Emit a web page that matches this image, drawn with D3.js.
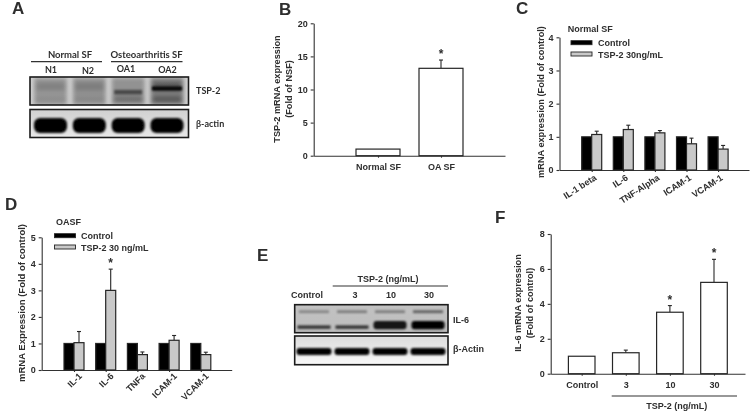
<!DOCTYPE html>
<html lang="en">
<head>
<meta charset="UTF-8">
<title>TSP-2 expression panels</title>
<script src="https://d3js.org/d3.v7.min.js"></script>
<style>
    html, body { margin: 0; padding: 0; background: #fff; }
    svg { display: block; }
    text { font-family: "Liberation Sans", Arial, sans-serif; font-weight: bold; fill: #2e2e2e; }
    text.lato { font-family: Lato, sans-serif; }
    .axis path, .axis line { stroke: #333; stroke-width: 1.1; }
    .axis text { font-size: 9px; fill: #2e2e2e; }
</style>
</head>
<body>
<svg id="fig" width="750" height="412"></svg>
<script>
    // panel B
    const bCategories = ["Normal SF", "OA SF"];
    const bValues = [1, 13.2];
    const bErrTop = [null, 14.45];
    const bStars = [false, true];
    const bTicks = [0, 5, 10, 15, 20];

    // panel C
    const cCategories = ["IL-1 beta", "IL-6", "TNF-Alpha", "ICAM-1", "VCAM-1"];
    const cControl = [1, 1, 1, 1, 1];
    const cTsp2 = [1.07, 1.22, 1.12, 0.79, 0.63];
    const cErrTop = [1.17, 1.35, 1.19, 0.96, 0.74];
    const cTicks = [0, 1, 2, 3, 4];

    // panel D
    const dCategories = ["IL-1", "IL-6", "TNFa", "ICAM-1", "VCAM-1"];
    const dControl = [1, 1, 1, 1, 1];
    const dTsp2 = [1.03, 3.0, 0.58, 1.12, 0.58];
    const dErrTop = [1.45, 3.8, 0.68, 1.3, 0.67];
    const dStars = [false, true, false, false, false];
    const dTicks = [0, 1, 2, 3, 4, 5];

    // panel F
    const fCategories = ["Control", "3", "10", "30"];
    const fValues = [1, 1.2, 3.52, 5.23];
    const fErrTop = [null, 1.35, 3.9, 6.55];
    const fStars = [false, false, true, true];
    const fTicks = [0, 2, 4, 6, 8];

    // blot lanes and estimated band darkness (0-1)
    const aLanes = ["N1", "N2", "OA1", "OA2"];
    const aSmear = [0.28, 0.3, 0.3, 0.4];
    const aUpperBand = [0.14, 0.14, 0, 0.3];
    const aDarkBand = [0, 0, 0, 1];
    const aMidBand = [0, 0, 0.5, 0];
    const aLowBand = [0.06, 0.06, 0.28, 0.32];
    const aActin = [1, 1, 1, 1];
    const eLanes = ["Control", "3", "10", "30"];
    const eFaintBand = [0.3, 0.35, 0.35, 0.5];
    const eThinBand = [0.75, 0.75, 0, 0];
    const eThickBand = [0, 0, 0.9, 1];
    const eActin = [1, 1, 1, 1];

    const GRAY = "#c9c9c9";
    const svg = d3.select("#fig");
    const defs = svg.append("defs");
    const root = svg.append("g").attr("filter", "url(#jpeg)");

    defs.append("filter").attr("id", "jpeg").attr("filterUnits", "userSpaceOnUse")
        .attr("x", 0).attr("y", 0).attr("width", 750).attr("height", 412)
        .append("feGaussianBlur").attr("stdDeviation", 0.3);
    [1, 2, 3].forEach(n => {
        defs.append("filter").attr("id", "soft" + n).attr("x", "-30%").attr("y", "-150%").attr("width", "160%").attr("height", "400%")
            .append("feGaussianBlur").attr("stdDeviation", n);
    });

    function label(str, x, y, size, opts) {
        opts = opts || {};
        const t = root.append("text").attr("x", x).attr("y", y).attr("font-size", size + "px")
            .attr("text-anchor", opts.anchor || "start").text(str);
        if (opts.rotate) t.attr("transform", `rotate(${opts.rotate},${x},${y})`);
        if (opts.lato) t.attr("class", "lato");
        return t;
    }

    function yTitle(lines, xs, cy, size) {
        lines.forEach((l, i) => label(l, xs[i], cy, size, {anchor: "middle", rotate: -90}));
    }

    // axes for one bar panel. x is in category index units so the baseline runs past the bars
    function axes(p) {
        const y = d3.scaleLinear().domain(p.yDomain).range(p.yRange);
        const x = d3.scaleLinear()
            .domain([(p.left - p.first) / p.step, (p.right - p.first) / p.step])
            .range([p.left, p.right]);
        const yAxis = d3.axisLeft(y).tickValues(p.ticks).tickFormat(d3.format("d"))
            .tickSize(3).tickSizeOuter(0).tickPadding(3);
        root.append("g").attr("class", "axis").attr("transform", `translate(${p.left},0)`).call(yAxis);
        const xAxis = d3.axisBottom(x).tickValues(p.cats.map((c, i) => i)).tickSize(2).tickSizeOuter(0)
            .tickPadding(p.rotate ? 3 : 6).tickFormat(i => p.cats[i]);
        const gx = root.append("g").attr("class", "axis").attr("transform", `translate(0,${y(0)})`).call(xAxis);
        if (p.rotate) {
            gx.selectAll("text").attr("text-anchor", "end").attr("dy", "0.6em").attr("dx", p.labelDx)
                .attr("transform", `rotate(${p.rotate})`);
        }
        return {x, y};
    }

    function bar(g, x0, x1, v, y, fill) {
        g.append("rect").attr("x", x0).attr("width", x1 - x0).attr("y", y(v)).attr("height", y(0) - y(v))
            .attr("fill", fill).attr("stroke", "#262626").attr("stroke-width", 1.2);
    }

    function errBar(g, cx, v, top, y, cap) {
        g.append("line").attr("x1", cx).attr("x2", cx).attr("y1", y(v)).attr("y2", y(top))
            .attr("stroke", "#262626").attr("stroke-width", 1.1);
        g.append("line").attr("x1", cx - cap).attr("x2", cx + cap).attr("y1", y(top)).attr("y2", y(top))
            .attr("stroke", "#262626").attr("stroke-width", 1.1);
    }

    function star(cx, top, y) {
        label("*", cx, y(top) - 2, 12, {anchor: "middle"});
    }

    function singleBars(p, values, errTop, stars) {
        const {x, y} = axes(p);
        const g = root.append("g");
        values.forEach((v, i) => {
            const cx = x(i);
            if (errTop[i] != null) errBar(g, cx, v, errTop[i], y, 2);
            bar(g, cx - p.half, cx + p.half, v, y, "#fff");
            if (stars[i]) star(cx, errTop[i], y);
        });
    }

    function pairedBars(p, control, tsp2, errTop, stars) {
        const {x, y} = axes(p);
        const g = root.append("g");
        control.forEach((v, i) => {
            const cx = x(i);
            errBar(g, cx + p.half / 2, tsp2[i], errTop[i], y, 2);
            bar(g, cx - p.half, cx, v, y, "#000");
            bar(g, cx, cx + p.half, tsp2[i], y, GRAY);
            if (stars && stars[i]) star(cx + p.half / 2, errTop[i], y);
        });
    }

    function legend(title, tx, ty, sx, rows, lx, size) {
        label(title, tx, ty, size);
        rows.forEach(r => {
            root.append("rect").attr("x", sx).attr("y", r.y - 2).attr("width", 21).attr("height", 4)
                .attr("fill", r.fill).attr("stroke", "#262626").attr("stroke-width", 0.9);
            label(r.text, lx, r.y + 3.5, size);
        });
    }

    // western blot strip: a grey field with blurred band rectangles per lane
    function blot(box, lanes, fieldTop, fieldBottom, layers) {
        const id = "clip" + box.y0;
        const gradId = "grad" + box.y0;
        defs.append("clipPath").attr("id", id).append("rect")
            .attr("x", box.x0).attr("y", box.y0).attr("width", box.x1 - box.x0).attr("height", box.y1 - box.y0);
        const grad = defs.append("linearGradient").attr("id", gradId).attr("x1", 0).attr("x2", 0).attr("y1", 0).attr("y2", 1);
        grad.append("stop").attr("offset", "0%").attr("stop-color", fieldTop);
        grad.append("stop").attr("offset", "100%").attr("stop-color", fieldBottom);

        const xLane = d3.scalePoint().domain(lanes).range([box.first, box.last]);
        const yFrac = d3.scaleLinear().domain([0, 1]).range([box.y0, box.y1]);
        const g = root.append("g").attr("clip-path", `url(#${id})`);
        g.append("rect").attr("x", box.x0).attr("y", box.y0).attr("width", box.x1 - box.x0).attr("height", box.y1 - box.y0)
            .attr("fill", `url(#${gradId})`);
        layers.forEach(l => {
            const lg = g.append("g");
            lg.selectAll("rect").data(l.values).join("rect")
                .attr("x", (d, i) => xLane(lanes[i]) - l.width / 2)
                .attr("width", l.width)
                .attr("y", yFrac(l.top))
                .attr("height", yFrac(l.bottom) - yFrac(l.top))
                .attr("rx", l.round || 0)
                .attr("fill", "#000")
                .attr("opacity", d => d)
                .attr("filter", `url(#soft${l.blur || 1})`);
        });
        root.append("rect").attr("x", box.x0).attr("y", box.y0).attr("width", box.x1 - box.x0).attr("height", box.y1 - box.y0)
            .attr("fill", "none").attr("stroke", "#1c1c1c").attr("stroke-width", 1.6);
    }

    function rule(x0, x1, y, width) {
        root.append("line").attr("x1", x0).attr("x2", x1).attr("y1", y).attr("y2", y)
            .attr("stroke", "#333").attr("stroke-width", width || 1.1);
    }

    // panel letters
    [["A", 12, 14], ["B", 279, 15], ["C", 516, 14], ["D", 5, 210], ["E", 257, 261], ["F", 495, 223]]
        .forEach(d => label(d[0], d[1], d[2], 17));

    // A
    blot({x0: 30, x1: 188.5, y0: 77, y1: 105, first: 50.5, last: 167}, aLanes, "#d2d2d2", "#d0d0d0", [
        {values: aSmear, top: 0.02, bottom: 1, width: 33, blur: 2},
        {values: aUpperBand, top: 0.2, bottom: 0.48, width: 28, blur: 2},
        {values: aDarkBand, top: 0.34, bottom: 0.48, width: 30, blur: 1},
        {values: aMidBand, top: 0.46, bottom: 0.62, width: 28, blur: 1},
        {values: aLowBand, top: 0.7, bottom: 0.88, width: 28, blur: 2}
    ]);
    blot({x0: 30, x1: 188.5, y0: 109.5, y1: 137.5, first: 50.5, last: 167}, aLanes, "#d0d0d0", "#e8e8e8", [
        {values: aActin, top: 0.3, bottom: 0.84, width: 33, round: 6, blur: 1}
    ]);
    rule(31, 102, 61.7, 1.2);
    rule(111, 182.5, 61.7, 1.2);
    label("Normal SF", 70, 58, 9.5, {anchor: "middle", lato: true});
    label("Osteoarthritis SF", 146.5, 58, 9.5, {anchor: "middle", lato: true});
    const aLabelX = d3.scaleOrdinal(aLanes, [51, 88, 126, 167.5]);
    const aLabelY = d3.scaleOrdinal(aLanes, [73, 74, 72, 73]);
    aLanes.forEach(l => label(l, aLabelX(l), aLabelY(l), 9, {anchor: "middle", lato: true}));
    label("TSP-2", 196, 94, 9, {lato: true});
    label("β-actin", 196, 127, 9, {lato: true});

    // B
    singleBars({cats: bCategories, yDomain: [0, 20], yRange: [155.7, 23.3], ticks: bTicks,
        left: 313.7, right: 505, first: 378, step: 63, half: 22}, bValues, bErrTop, bStars);
    yTitle(["TSP-2 mRNA expression", "(Fold of NSF)"], [280, 292], 89, 9.2);

    // C
    pairedBars({cats: cCategories, yDomain: [0, 4], yRange: [170, 37.3], ticks: cTicks,
        left: 559.5, right: 749, first: 591.7, step: 31.6, half: 10, rotate: -33, labelDx: "-0.1em"},
        cControl, cTsp2, cErrTop);
    yTitle(["mRNA expression (Fold of control)"], [544], 102, 9.2);
    legend("Normal SF", 567.7, 32, 571, [
        {y: 42.7, fill: "#000", text: "Control"},
        {y: 54, fill: GRAY, text: "TSP-2 30ng/mL"}
    ], 598, 9);

    // D
    pairedBars({cats: dCategories, yDomain: [0, 5], yRange: [370, 237.3], ticks: dTicks,
        left: 41.7, right: 231.7, first: 74, step: 31.7, half: 10, rotate: -45, labelDx: "0.1em"},
        dControl, dTsp2, dErrTop, dStars);
    yTitle(["mRNA Expression (Fold of control)"], [25], 303, 9.5);
    legend("OASF", 56, 225, 54.5, [
        {y: 235.7, fill: "#000", text: "Control"},
        {y: 247, fill: GRAY, text: "TSP-2 30 ng/mL"}
    ], 81, 9);

    // E
    label("TSP-2 (ng/mL)", 388, 281.7, 9, {anchor: "middle"});
    rule(332.7, 448, 286, 1.2);
    const eLabelX = d3.scaleOrdinal(eLanes, [307, 355, 391, 429]);
    eLanes.forEach(l => label(l, eLabelX(l), 298, 9, {anchor: "middle"}));
    blot({x0: 294.7, x1: 448, y0: 304.7, y1: 332.7, first: 314, last: 428}, eLanes, "#c2c2c2", "#bdbdbd", [
        {values: eFaintBand, top: 0.2, bottom: 0.3, width: 30},
        {values: eThinBand, top: 0.74, bottom: 0.86, width: 33},
        {values: eThickBand, top: 0.58, bottom: 0.88, width: 33, round: 3}
    ]);
    blot({x0: 294.7, x1: 448, y0: 336, y1: 364.7, first: 314, last: 428}, eLanes, "#dcdcdc", "#f8f8f8", [
        {values: eActin, top: 0.42, bottom: 0.66, width: 35, round: 3}
    ]);
    label("IL-6", 453, 323, 9);
    label("β-Actin", 453, 352, 9);

    // F
    singleBars({cats: fCategories, yDomain: [0, 8], yRange: [373.7, 234], ticks: fTicks,
        left: 550.7, right: 745, first: 581.7, step: 44.1, half: 13.3}, fValues, fErrTop, fStars);
    yTitle(["IL-6 mRNA expression", "(Fold of control)"], [521, 533], 303, 9.2);
    rule(611.7, 737, 396, 1.1);
    label("TSP-2 (ng/mL)", 676.7, 409, 9, {anchor: "middle"});
</script>
</body>
</html>
